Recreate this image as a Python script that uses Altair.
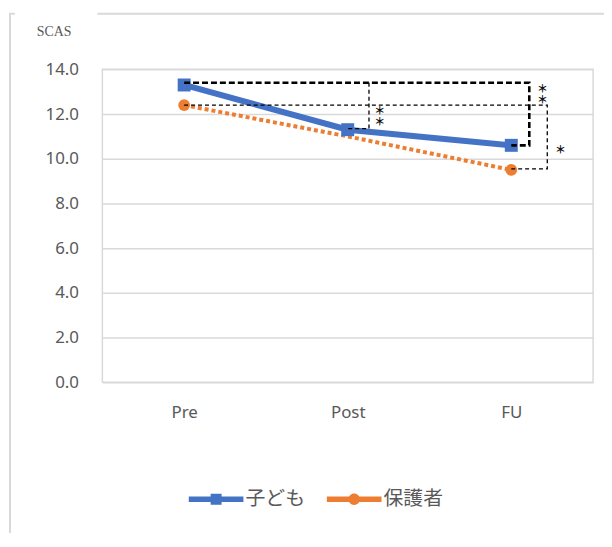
import altair as alt
import pandas as pd

# ---- data ----
times = ["Pre", "Post", "FU"]
series = ["子ども", "保護者"]
child_scores = [13.3, 11.3, 10.6]
parent_scores = [12.4, 11.0, 9.5]
child_marker = [True, True, True]
parent_marker = [True, False, True]
colors = ["#4472C4", "#ED7D31"]
y_ticks = [0, 2, 4, 6, 8, 10, 12, 14]

# significance brackets (x in category-index units, y in score units)
bracket_id = ["a", "a", "a", "a", "b", "b", "b", "c", "c", "c", "c"]
bracket_x = [0, 2.11, 2.11, 2.0, 1.13, 1.13, 1.0, 0, 2.22, 2.22, 2.0]
bracket_y = [13.4, 13.4, 10.6, 10.6, 13.4, 11.35, 11.35, 12.4, 12.4, 9.55, 9.55]
bracket_heavy = [True] * 4 + [False] * 7

star_x = [1.195, 2.19, 2.30]
star_y = [12.08, 13.06, 10.36]
star_label = ["＊\n＊", "＊\n＊", "＊"]

# ---- tables ----
rows = []
for i, t in enumerate(times):
    rows.append({"idx": i, "time": t, "series": series[1], "value": parent_scores[i], "marker": parent_marker[i]})
for i, t in enumerate(times):
    rows.append({"idx": i, "time": t, "series": series[0], "value": child_scores[i], "marker": child_marker[i]})
df = pd.DataFrame(rows)

br = pd.DataFrame({"bid": bracket_id, "x": bracket_x, "y": bracket_y,
                   "heavy": bracket_heavy, "ord": list(range(len(bracket_x)))})
stars = pd.DataFrame({"x": star_x, "y": star_y, "label": star_label})

GRAY = "#595959"
LINE = "#d9d9d9"

label_expr = "[" + ",".join("'" + t + "'" for t in times) + "][datum.value]"
x_scale = alt.Scale(domain=[-0.5, 2.5], nice=False, zero=False)
y_scale = alt.Scale(domain=[0, 14], nice=False)
color_scale = alt.Scale(domain=series, range=colors)

x_enc = alt.X("idx:Q", scale=x_scale, title=None,
              axis=alt.Axis(values=[0, 1, 2], labelExpr=label_expr, grid=False, ticks=False,
                            domain=False, labelPadding=22, labelFont="Noto Sans",
                            labelFontSize=17, labelColor=GRAY))
y_enc = alt.Y("value:Q", scale=y_scale,
              axis=alt.Axis(values=y_ticks, format=".1f", grid=True, gridColor=LINE, gridWidth=1.5,
                            ticks=False, domain=False, labelPadding=24, labelFont="Noto Sans",
                            labelFontSize=17, labelColor=GRAY,
                            title="SCAS", titleAngle=0, titleX=-49, titleY=-38,
                            titleAlign="center", titleBaseline="middle",
                            titleFont="Liberation Serif", titleFontSize=14,
                            titleFontWeight="normal", titleColor=GRAY))

# legend symbols: line segment with marker
p_child = "M-1,-0.1H1V0.1H-1Z M-0.2,-0.2H0.2V0.2H-0.2Z"
p_parent = "M-1,-0.1H1V0.1H-1Z M-0.21,0A0.21,0.21 0 1,1 0.21,0A0.21,0.21 0 1,1 -0.21,0Z"
legend = alt.Legend(
    title=None, orient="none", legendX=87, legendY=405, direction="horizontal",
    symbolSize=3025, symbolOpacity=1, symbolStrokeWidth=0, symbolStrokeColor="transparent",
    labelFont="Noto Sans CJK JP", labelFontSize=20, labelColor=GRAY,
    labelOffset=2, columnPadding=22,
)

base = alt.Chart(df)
line_parent = base.transform_filter(f"datum.series == '{series[1]}'").mark_line(
    strokeWidth=4, strokeDash=[4, 3]).encode(
    x=x_enc, y=y_enc, color=alt.Color("series:N", scale=color_scale, legend=None))
line_child = base.transform_filter(f"datum.series == '{series[0]}'").mark_line(
    strokeWidth=6).encode(
    x=x_enc, y=y_enc, color=alt.Color("series:N", scale=color_scale, legend=None))
pts_parent = base.transform_filter(f"datum.marker && datum.series == '{series[1]}'").mark_point(
    shape="circle", filled=True, opacity=1, size=140).encode(
    x=x_enc, y=y_enc, color=alt.Color("series:N", scale=color_scale, legend=None))
pts_child = base.transform_filter(f"datum.marker && datum.series == '{series[0]}'").mark_point(
    shape="square", filled=True, opacity=1, size=170).encode(
    x=x_enc, y=y_enc, color=alt.Color("series:N", scale=color_scale, legend=None))
legend_layer = base.transform_filter("datum.idx == 0").mark_point(filled=True, opacity=0, strokeWidth=0).encode(
    x=x_enc, y=y_enc,
    color=alt.Color("series:N", scale=color_scale, legend=legend),
    shape=alt.Shape("series:N", scale=alt.Scale(domain=series, range=[p_child, p_parent]), legend=legend),
)

br_x = alt.X("x:Q", scale=x_scale)
br_y = alt.Y("y:Q", scale=y_scale)
heavy = alt.Chart(br).transform_filter("datum.heavy").mark_line(
    color="black", strokeWidth=2.6, strokeDash=[6, 3]).encode(
    x=br_x, y=br_y, detail="bid:N", order="ord:Q")
thin = alt.Chart(br).transform_filter("!datum.heavy").mark_line(
    color="black", strokeWidth=1.3, strokeDash=[4, 3]).encode(
    x=br_x, y=br_y, detail="bid:N", order="ord:Q")
star_text = alt.Chart(stars).mark_text(
    font="Noto Sans CJK JP", fontSize=11, fontWeight="bold", color="#111111",
    baseline="middle", align="center", lineBreak="\n", lineHeight=11).encode(
    x=br_x, y=br_y, text="label:N")

one = pd.DataFrame({"a": [0]})
frame_left = alt.Chart(one).mark_rule(color=LINE, strokeWidth=2).encode(
    x=alt.value(-93), y=alt.value(-56), y2=alt.value(470))
frame_top1 = alt.Chart(one).mark_rule(color=LINE, strokeWidth=2).encode(
    x=alt.value(-94), x2=alt.value(-88), y=alt.value(-56))
frame_top2 = alt.Chart(one).mark_rule(color=LINE, strokeWidth=2).encode(
    x=alt.value(-5), x2=alt.value(510), y=alt.value(-56))

chart = alt.layer(
    frame_left, frame_top1, frame_top2, legend_layer, line_parent, line_child,
    pts_parent, pts_child, heavy, thin, star_text
).properties(
    width=494, height=315,
    autosize=alt.AutoSizeParams(type="none"),
    padding={"left": 95, "top": 60, "right": 11, "bottom": 150},
).configure_view(stroke=LINE, strokeWidth=1.5)

chart.save("out.html", embed_options={"renderer": "svg", "actions": False})
